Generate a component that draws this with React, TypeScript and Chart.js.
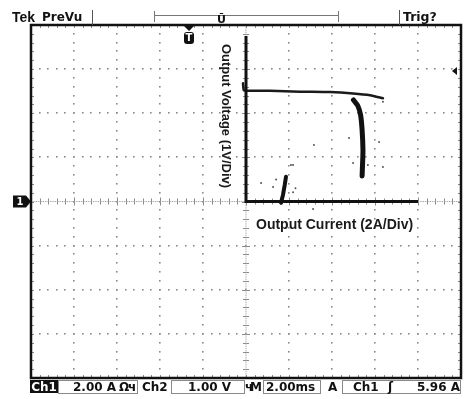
import React, { useEffect, useRef } from "react";
import { Chart, registerables } from "chart.js";

Chart.register(...registerables);

// X-Y display: Ch1 = output current (A, x), Ch2 = output voltage (V, y)
const ampsPerDiv = 2;
const voltsPerDiv = 1;
const xDivs = 10;
const yDivs = 8;

// hand-drawn axes on the screen
const axisCurrent = [0, 0, 8];
const axisVoltage = [3.75, 0, 0];

// constant-voltage region (flat trace)
const flatCurrent = [-0.14, -0.1, 0.05, 1.12, 2.51, 3.91, 4.98, 5.77, 6.37];
const flatVoltage = [2.68, 2.52, 2.51, 2.51, 2.49, 2.48, 2.45, 2.41, 2.34];

// current-limit region (drooping trace)
const droopCurrent = [5.0, 5.2, 5.33, 5.4, 5.44, 5.42, 5.4];
const droopVoltage = [2.3, 2.17, 1.96, 1.62, 1.17, 0.83, 0.58];

// start-up trace near the origin
const startCurrent = [1.63, 1.72, 1.8, 1.86];
const startVoltage = [-0.03, 0.15, 0.37, 0.56];

// stray sample points
const strayCurrent = [0.7, 1.26, 2.19, 2.09, 3.12, 1.07, 6.37, 4.98, 3.16, 4.79, 6.19, 5.67, 2.19, 6.37, 1.4, 2.3];
const strayVoltage = [0.42, 0.33, 0.21, 0.83, -0.17, 0.0, 0.78, 0.87, 1.28, 1.44, 1.35, 0.83, 0.83, 2.26, 0.5, 0.3];

// screen texts
const axisTitleY = "Output Voltage (1V/Div)";
const axisTitleX = "Output Current (2A/Div)";
const topTexts = ["Tek", "PreVu", "Trig?"];
const readoutCh1 = "2.00 A";
const readoutCh2 = "1.00 V";
const readoutTime = "2.00ms";
const readoutTrig = "5.96 A";

const pts = (xs: number[], ys: number[]) => xs.map((x, i) => ({ x, y: ys[i] }));

const DV = '"DejaVu Sans", sans-serif';
const LS = '"Liberation Sans", Arial, sans-serif';

const graticule = {
  id: "graticule",
  beforeDatasetsDraw(chart: any) {
    const { ctx, chartArea } = chart;
    const { left, right, top, bottom } = chartArea;
    const dw = (right - left) / xDivs;
    const dh = (bottom - top) / yDivs;
    const cx = chart.scales.x.getPixelForValue(0);
    const cy = chart.scales.y.getPixelForValue(0);
    ctx.save();
    ctx.fillStyle = "#8a8a8a";
    for (let i = 1; i < xDivs; i++) {
      const px = left + i * dw;
      if (Math.abs(px - cx) < 1) continue;
      for (let k = 1; k < yDivs * 5; k++) {
        const py = top + (k * dh) / 5;
        ctx.fillRect(Math.round(px) - 1, Math.round(py) - 1, 1.6, 1.6);
      }
    }
    for (let j = 1; j < yDivs; j++) {
      const py = top + j * dh;
      if (Math.abs(py - cy) < 1) continue;
      for (let k = 1; k < xDivs * 5; k++) {
        const px = left + (k * dw) / 5;
        ctx.fillRect(Math.round(px) - 1, Math.round(py) - 1, 1.6, 1.6);
      }
    }
    ctx.strokeStyle = "#8a8a8a";
    ctx.lineWidth = 1;
    ctx.beginPath();
    for (let k = 1; k < xDivs * 5; k++) {
      const px = Math.round(left + (k * dw) / 5) + 0.5;
      const len = k % 5 === 0 ? 4 : 3;
      ctx.moveTo(px, cy - len);
      ctx.lineTo(px, cy + len);
      ctx.moveTo(px, top);
      ctx.lineTo(px, top + 3);
      ctx.moveTo(px, bottom);
      ctx.lineTo(px, bottom - 3);
    }
    for (let k = 1; k < yDivs * 5; k++) {
      const py = Math.round(top + (k * dh) / 5) + 0.5;
      const len = k % 5 === 0 ? 4 : 3;
      ctx.moveTo(cx - len, py);
      ctx.lineTo(cx + len, py);
      ctx.moveTo(left, py);
      ctx.lineTo(left + 3, py);
      ctx.moveTo(right, py);
      ctx.lineTo(right - 3, py);
    }
    ctx.stroke();
    ctx.fillStyle = "#a0a0a0";
    for (let k = 0; k < xDivs * 25; k++) {
      const px = left + (k * dw) / 25;
      ctx.fillRect(px, cy - 0.5, 1, 1);
    }
    for (let k = 0; k < yDivs * 25; k++) {
      const py = top + (k * dh) / 25;
      ctx.fillRect(cx - 0.5, py, 1, 1);
    }
    ctx.strokeStyle = "#111";
    ctx.lineWidth = 2.5;
    ctx.strokeRect(left, top, right - left, bottom - top);
    ctx.restore();
  },
};

const overlay = {
  id: "overlay",
  afterDraw(chart: any) {
    const { ctx, chartArea } = chart;
    const { right, top } = chartArea;
    const cx = chart.scales.x.getPixelForValue(0);
    const cy = chart.scales.y.getPixelForValue(0);
    ctx.save();
    ctx.fillStyle = "#111";
    ctx.textBaseline = "alphabetic";
    ctx.textAlign = "left";
    // top bar
    ctx.font = `bold 14px ${LS}`;
    ctx.fillText(topTexts[0], 12, 22);
    ctx.font = `bold 12px ${DV}`;
    ctx.fillText(topTexts[1], 42, 21);
    ctx.font = `bold 12.5px ${DV}`;
    ctx.fillText(topTexts[2], 403, 21);
    ctx.strokeStyle = "#555";
    ctx.lineWidth = 1;
    ctx.beginPath();
    ctx.moveTo(92.5, 10);
    ctx.lineTo(92.5, top);
    ctx.moveTo(399.5, 10);
    ctx.lineTo(399.5, top);
    ctx.stroke();
    ctx.strokeStyle = "#777";
    ctx.beginPath();
    ctx.moveTo(154.5, 15.5);
    ctx.lineTo(338.5, 15.5);
    ctx.moveTo(154.5, 11);
    ctx.lineTo(154.5, 22);
    ctx.moveTo(338.5, 11);
    ctx.lineTo(338.5, 22);
    ctx.stroke();
    ctx.font = `bold 11px ${DV}`;
    ctx.textAlign = "center";
    ctx.fillText("Ū", 221.5, 23);

    // trigger position marker
    ctx.beginPath();
    ctx.moveTo(183, top);
    ctx.lineTo(195, top);
    ctx.lineTo(189, top + 6);
    ctx.closePath();
    ctx.fill();
    ctx.beginPath();
    ctx.roundRect(184, 32, 10, 12, 3);
    ctx.fill();
    ctx.fillStyle = "#fff";
    ctx.font = `bold 10px ${DV}`;
    ctx.textBaseline = "middle";
    ctx.fillText("T", 189, 38.5);

    // Ch1 ground marker
    ctx.fillStyle = "#111";
    ctx.beginPath();
    ctx.moveTo(13, cy - 6);
    ctx.lineTo(26, cy - 6);
    ctx.lineTo(31, cy);
    ctx.lineTo(26, cy + 6);
    ctx.lineTo(13, cy + 6);
    ctx.closePath();
    ctx.fill();
    ctx.fillStyle = "#fff";
    ctx.fillText("1", 20, cy + 0.5);

    // trigger level marker
    ctx.fillStyle = "#111";
    ctx.beginPath();
    ctx.moveTo(right - 9, 71);
    ctx.lineTo(right - 4, 67);
    ctx.lineTo(right - 4, 75);
    ctx.closePath();
    ctx.fill();

    // axis titles
    ctx.fillStyle = "#1a1a1a";
    ctx.save();
    ctx.translate(cx - 20, 116);
    ctx.rotate(Math.PI / 2);
    ctx.font = `bold 13px ${LS}`;
    ctx.textAlign = "center";
    ctx.textBaseline = "middle";
    ctx.fillText(axisTitleY, 0, 0);
    ctx.restore();
    ctx.font = `bold 14px ${LS}`;
    ctx.textAlign = "left";
    ctx.textBaseline = "alphabetic";
    ctx.fillText(axisTitleX, 256, 229);

    // bottom readouts
    const by = 380.5;
    const bh = 13;
    ctx.fillStyle = "#111";
    ctx.fillRect(30, 380, 28, 13);
    ctx.strokeStyle = "#8a8a8a";
    ctx.lineWidth = 1;
    ctx.strokeRect(58.5, by, 79, bh);
    ctx.strokeRect(171.5, by, 73, bh);
    ctx.strokeRect(263.5, by, 57, bh);
    ctx.strokeRect(342.5, by, 118, bh);
    ctx.font = `bold 12px ${DV}`;
    ctx.fillStyle = "#fff";
    ctx.textAlign = "center";
    ctx.fillText("Ch1", 44, 391);
    ctx.fillStyle = "#111";
    ctx.textAlign = "left";
    ctx.fillText(readoutCh1, 73, 391);
    ctx.fillText("Ω", 119, 391);
    ctx.fillText("ч", 128, 391);
    ctx.fillText("Ch2", 142, 391);
    ctx.fillText(readoutCh2, 188, 391);
    ctx.fillText("ч", 245, 391);
    ctx.fillText("M", 250, 391);
    ctx.fillText(readoutTime, 266, 391);
    ctx.fillText("A", 328, 391);
    ctx.fillText("Ch1", 353, 391);
    ctx.fillText("ʃ", 388, 391);
    ctx.textAlign = "right";
    ctx.fillText(readoutTrig, 460, 391);
    ctx.restore();
  },
};

export default function App() {
  const ref = useRef<HTMLCanvasElement | null>(null);
  useEffect(() => {
    if (!ref.current) return;
    const chart = new Chart(ref.current, {
      type: "scatter",
      data: {
        datasets: [
          {
            label: "axes",
            data: pts(axisCurrent, axisVoltage),
            showLine: true,
            borderColor: "#111",
            borderWidth: 3,
            pointRadius: 0,
          },
          {
            label: "flat",
            data: pts(flatCurrent, flatVoltage),
            showLine: true,
            borderColor: "#1a1a1a",
            borderWidth: 2.5,
            pointRadius: 0,
            tension: 0.2,
            borderCapStyle: "round",
          },
          {
            label: "droop",
            data: pts(droopCurrent, droopVoltage),
            showLine: true,
            borderColor: "#111",
            borderWidth: 5,
            pointRadius: 0,
            tension: 0.3,
            borderCapStyle: "round",
          },
          {
            label: "start",
            data: pts(startCurrent, startVoltage),
            showLine: true,
            borderColor: "#111",
            borderWidth: 4,
            pointRadius: 0,
            borderCapStyle: "round",
          },
          {
            label: "stray",
            data: pts(strayCurrent, strayVoltage),
            showLine: false,
            pointRadius: 1,
            pointBorderWidth: 0,
            pointBackgroundColor: "#555",
          },
        ],
      } as any,
      options: {
        responsive: false,
        animation: false,
        events: [],
        layout: { padding: { left: 31, right: 8, top: 25, bottom: 21 } },
        plugins: {
          legend: { display: false },
          tooltip: { enabled: false },
          title: { display: false },
        },
        scales: {
          x: {
            type: "linear",
            min: -(xDivs / 2) * ampsPerDiv,
            max: (xDivs / 2) * ampsPerDiv,
            display: false,
          },
          y: {
            type: "linear",
            min: -(yDivs / 2) * voltsPerDiv,
            max: (yDivs / 2) * voltsPerDiv,
            display: false,
          },
        },
      },
      plugins: [graticule, overlay],
    });
    return () => chart.destroy();
  }, []);
  return (
    <div style={{ position: "absolute", left: 0, top: 0, width: 469, height: 399, background: "#fff" }}>
      <canvas ref={ref} width={469} height={399} style={{ display: "block" }} />
    </div>
  );
}
